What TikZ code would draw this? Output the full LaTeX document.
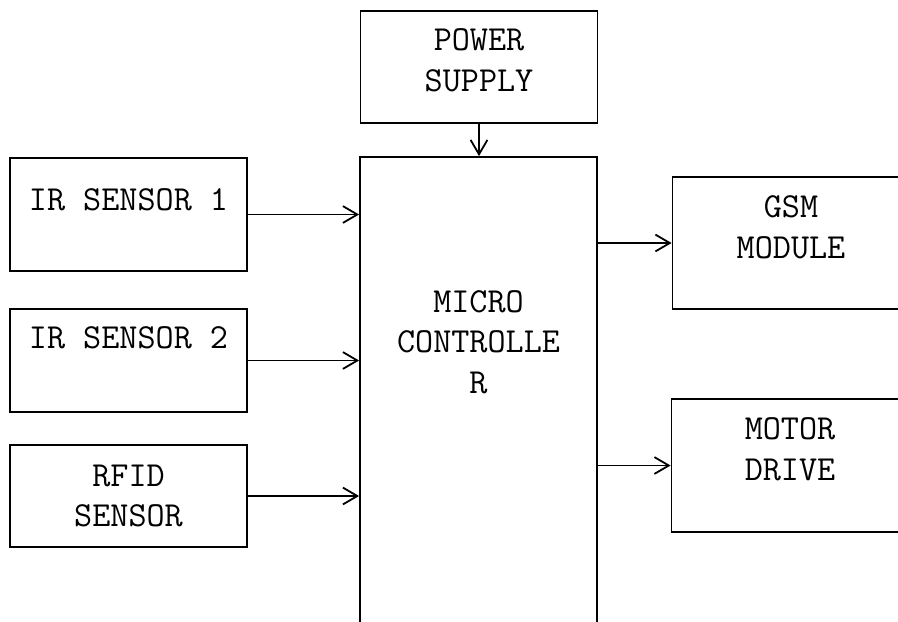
\documentclass[tikz,border=0pt]{standalone}
\usepackage{fontspec}
\usetikzlibrary{arrows.meta,positioning}

\begin{document}
\begin{tikzpicture}[
    x=0.25mm, y=-0.25mm,
    blk/.style={draw, line width=0.45mm, minimum width=59.25mm, minimum height=#1, inner sep=0pt},
    txt/.style={font=\ttfamily\fontsize{25}{29}\selectfont, align=center},
    arr/.style={line width=0.45mm, -{Straight Barb[length=3.6mm,width=4.2mm]}},
]
\useasboundingbox (0,0) rectangle (898,621);
\clip (0,0) rectangle (898,621);

\node[blk=28mm, label={[txt, yshift=1.6mm]center:POWER\\SUPPLY}] (power) at (479,67) {};
\node[blk=120.75mm, label={[txt, yshift=14.1mm]center:MICRO\\CONTROLLE\\R}] (micro) at (478.5,398.5) {};

\node[blk=28.25mm, label={[txt, yshift=3.6mm]center:IR SENSOR 1}] (ir1) at (128.5,214.5) {};
\node[blk=25.75mm, label={[txt, yshift=5.6mm]center:IR SENSOR 2}] (ir2) at (128.5,360.5) {};
\node[blk=25.5mm, label={[txt]center:RFID\\SENSOR}] (rfid) at (128.5,496) {};

\node[blk=33mm, label={[txt, yshift=3.9mm]center:GSM\\MODULE}] (gsm) at (791,243) {};
\node[blk=33.25mm, label={[txt, yshift=4.1mm]center:MOTOR\\DRIVE}] (motor) at (790,465.5) {};

\draw[arr] (power.south) -- (power.south |- micro.north);
\draw[arr] (ir1.east) -- (ir1.east -| micro.west);
\draw[arr] (ir2.east) -- (ir2.east -| micro.west);
\draw[arr] (rfid.east) -- (rfid.east -| micro.west);
\draw[arr] (gsm.west -| micro.east) -- (gsm.west);
\draw[arr] (motor.west -| micro.east) -- (motor.west);
\end{tikzpicture}
\end{document}
